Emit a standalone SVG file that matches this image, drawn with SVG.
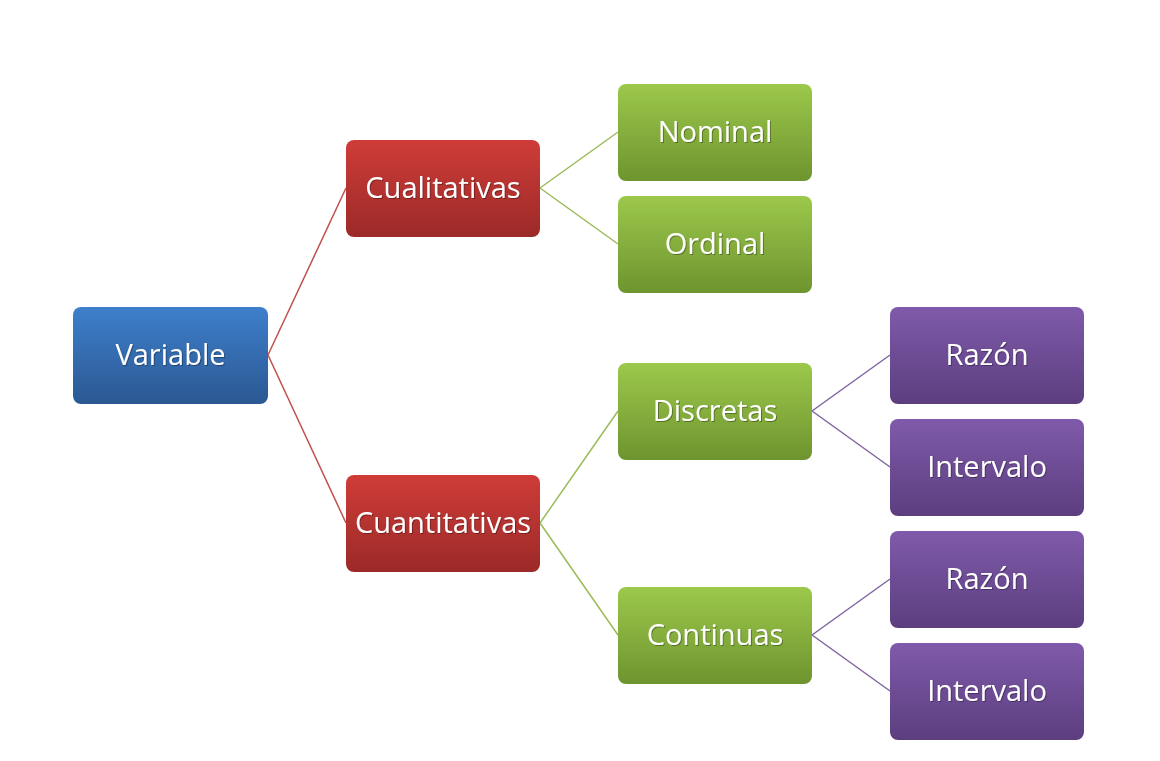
<svg xmlns="http://www.w3.org/2000/svg" width="1160" height="761" viewBox="0 0 1160 761">
<style>
.t{font-family:"Open Sans","Liberation Sans",sans-serif;font-size:29px;fill:#fff;text-anchor:middle;dominant-baseline:central}
.c{fill:none;stroke-width:1.5}
</style>
<defs>
<linearGradient id="gb" x1="0" y1="0" x2="0" y2="1"><stop offset="0" stop-color="#3e7fcc"/><stop offset="1" stop-color="#2a5892"/></linearGradient>
<linearGradient id="gr" x1="0" y1="0" x2="0" y2="1"><stop offset="0" stop-color="#cf3c38"/><stop offset="1" stop-color="#9b2a28"/></linearGradient>
<linearGradient id="gg" x1="0" y1="0" x2="0" y2="1"><stop offset="0" stop-color="#9cc84b"/><stop offset="1" stop-color="#6e942f"/></linearGradient>
<linearGradient id="gp" x1="0" y1="0" x2="0" y2="1"><stop offset="0" stop-color="#7f5aaa"/><stop offset="1" stop-color="#5c3e7f"/></linearGradient>
<filter id="ts" x="-10%" y="-20%" width="120%" height="140%"><feDropShadow dx="1" dy="1" stdDeviation="0.6" flood-color="#000" flood-opacity="0.35"/></filter>
</defs>
<rect width="1160" height="761" fill="#fff"/>
<g id="connectors">
<path class="c" stroke="#c0504d" d="M268,355 L346,188 M268,355 L346,523"/>
<path class="c" stroke="#9bbb59" d="M540,188 L618,132 M540,188 L618,244 M540,523 L618,411 M540,523 L618,635"/>
<path class="c" stroke="#8064a2" d="M812,411 L890,355 M812,411 L890,467 M812,635 L890,579 M812,635 L890,691"/>
</g>
<g id="n-variable"><rect x="73" y="307" width="195" height="97" rx="8" fill="url(#gb)"/><text class="t" x="170.5" y="353" filter="url(#ts)">Variable</text></g>
<g id="n-cualitativas"><rect x="346" y="140" width="194" height="97" rx="8" fill="url(#gr)"/><text class="t" x="443" y="186" filter="url(#ts)">Cualitativas</text></g>
<g id="n-cuantitativas"><rect x="346" y="475" width="194" height="97" rx="8" fill="url(#gr)"/><text class="t" x="443" y="521" filter="url(#ts)">Cuantitativas</text></g>
<g id="n-nominal"><rect x="618" y="84" width="194" height="97" rx="8" fill="url(#gg)"/><text class="t" x="715" y="130" filter="url(#ts)">Nominal</text></g>
<g id="n-ordinal"><rect x="618" y="196" width="194" height="97" rx="8" fill="url(#gg)"/><text class="t" x="715" y="242" filter="url(#ts)">Ordinal</text></g>
<g id="n-discretas"><rect x="618" y="363" width="194" height="97" rx="8" fill="url(#gg)"/><text class="t" x="715" y="409" filter="url(#ts)">Discretas</text></g>
<g id="n-continuas"><rect x="618" y="587" width="194" height="97" rx="8" fill="url(#gg)"/><text class="t" x="715" y="633" filter="url(#ts)">Continuas</text></g>
<g id="n-razon1"><rect x="890" y="307" width="194" height="97" rx="8" fill="url(#gp)"/><text class="t" x="987" y="353" filter="url(#ts)">Razón</text></g>
<g id="n-intervalo1"><rect x="890" y="419" width="194" height="97" rx="8" fill="url(#gp)"/><text class="t" x="987" y="465" filter="url(#ts)">Intervalo</text></g>
<g id="n-razon2"><rect x="890" y="531" width="194" height="97" rx="8" fill="url(#gp)"/><text class="t" x="987" y="577" filter="url(#ts)">Razón</text></g>
<g id="n-intervalo2"><rect x="890" y="643" width="194" height="97" rx="8" fill="url(#gp)"/><text class="t" x="987" y="689" filter="url(#ts)">Intervalo</text></g>
</svg>
